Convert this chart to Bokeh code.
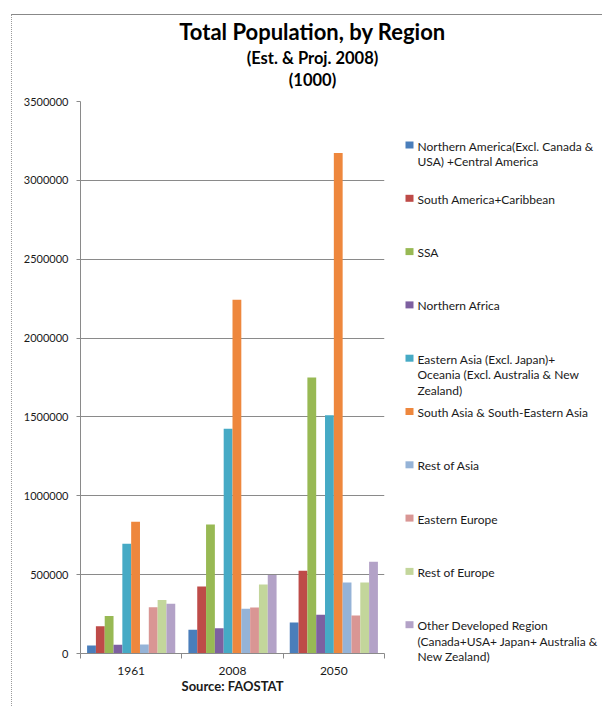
from bokeh.plotting import figure
from bokeh.core.properties import value
from bokeh.models import (ColumnDataSource, FixedTicker, NumeralTickFormatter,
                          Range1d, InlineStyleSheet)
from bokeh.embed import file_html
from bokeh.resources import INLINE

# ---------------- data ----------------
years = ["1961", "2008", "2050"]

region_labels = [
    "Northern America(Excl. Canada &\nUSA) +Central America",
    "South America+Caribbean",
    "SSA",
    "Northern Africa",
    "Eastern Asia (Excl. Japan)+\nOceania (Excl. Australia & New\nZealand)",
    "South Asia & South-Eastern Asia",
    "Rest of Asia",
    "Eastern Europe",
    "Rest of Europe",
    "Other Developed Region\n(Canada+USA+ Japan+ Australia &\nNew Zealand)",
]

northern_central_america = [50000, 150000, 197000]
south_america_caribbean = [173000, 425000, 524000]
ssa = [237000, 818000, 1750000]
northern_africa = [55000, 160000, 245000]
eastern_asia_oceania = [696000, 1425000, 1511000]
south_southeast_asia = [835000, 2243000, 3173000]
rest_of_asia = [57000, 283000, 450000]
eastern_europe = [294000, 292000, 241000]
rest_of_europe = [340000, 437000, 450000]
other_developed = [315000, 497000, 581000]

series = [northern_central_america, south_america_caribbean, ssa, northern_africa,
          eastern_asia_oceania, south_southeast_asia, rest_of_asia, eastern_europe,
          rest_of_europe, other_developed]

colors = ["#4A7EBB", "#BE4B48", "#98B954", "#7D60A0", "#46AAC5",
          "#EE873D", "#95B3D7", "#D99694", "#C3D69B", "#B3A2C7"]

y_ticks = [0, 500000, 1000000, 1500000, 2000000, 2500000, 3000000, 3500000]

title_lines = ["Total Population, by Region", "(Est. & Proj. 2008)", "(1000)"]

# ---------------- styling / layout ----------------
FONT = "Lato"
TXT = "#1a1a1a"
GRID = "#8a8a8a"
W, H = 602, 706
FRAME_LEFT, FRAME_RIGHT = 80, 384
FRAME_TOP, FRAME_BOTTOM = 101, 653

border_css = InlineStyleSheet(css="""
:host::before {
  content: "";
  position: absolute;
  left: 11px; top: 14px; right: 0px; bottom: 0px;
  border-left: 1px dotted #9a9a9a;
  border-top: 1px solid #888888;
  pointer-events: none;
  z-index: 10;
}
""")

# ---------------- chart ----------------
p = figure(width=W, height=H, output_backend="svg", toolbar_location=None,
           x_range=Range1d(0, len(years)), y_range=Range1d(0, y_ticks[-1]),
           min_border_left=FRAME_LEFT, min_border_right=W - FRAME_RIGHT,
           min_border_top=FRAME_TOP, min_border_bottom=H - FRAME_BOTTOM,
           stylesheets=[border_css])
p.outline_line_color = None
# page-pixel ranges for heading and legend (no axes attached)
p.extra_x_ranges = {"page": Range1d(FRAME_LEFT, FRAME_RIGHT)}
p.extra_y_ranges = {"page": Range1d(FRAME_BOTTOM, FRAME_TOP)}

n = len(series)
bw = 0.087
for j, vals in enumerate(series):
    xs = [i + 0.5 + (j - (n - 1) / 2) * bw for i in range(len(years))]
    src = ColumnDataSource(dict(x=xs, top=vals))
    p.vbar(x="x", top="top", width=bw, bottom=0, source=src,
           fill_color=colors[j], line_color=None)

# x axis: category labels centred, tick marks between categories
p.xaxis.ticker = FixedTicker(ticks=[i + 0.5 for i in range(len(years))],
                             minor_ticks=list(range(len(years) + 1)))
p.xaxis.major_label_overrides = {i + 0.5: y for i, y in enumerate(years)}
p.xaxis.major_tick_line_color = None
p.xaxis.major_tick_out = 0
p.xaxis.major_tick_in = 0
p.xaxis.minor_tick_line_color = GRID
p.xaxis.minor_tick_out = 5
p.xaxis.minor_tick_in = 0
p.xaxis.axis_line_color = GRID
p.xaxis.major_label_standoff = 8
p.xaxis.major_label_text_font = FONT
p.xaxis.major_label_text_font_size = "12px"
p.xaxis.major_label_text_color = TXT
p.xaxis.axis_label = "Source: FAOSTAT"
p.xaxis.axis_label_text_font = FONT
p.xaxis.axis_label_text_font_size = "13px"
p.xaxis.axis_label_text_font_style = "bold"
p.xaxis.axis_label_text_color = TXT
p.xaxis.axis_label_standoff = 0
p.xgrid.visible = False

# y axis
p.yaxis.ticker = FixedTicker(ticks=y_ticks)
p.yaxis.formatter = NumeralTickFormatter(format="0")
p.yaxis.major_tick_out = 4
p.yaxis.major_tick_in = 0
p.yaxis.major_tick_line_color = GRID
p.yaxis.minor_tick_line_color = None
p.yaxis.axis_line_color = GRID
p.yaxis.major_label_standoff = 8
p.yaxis.major_label_text_font = FONT
p.yaxis.major_label_text_font_size = "11px"
p.yaxis.major_label_text_color = TXT
p.ygrid.ticker = FixedTicker(ticks=y_ticks)
p.ygrid.grid_line_color = GRID
p.ygrid.grid_line_width = 1

# heading block (overlay level so it is drawn outside the plot frame)
title_src = ColumnDataSource(dict(x=[312] * 3, y=[31, 57, 79], text=title_lines,
                                  size=["22px", "16.5px", "16.5px"]))
p.text(x="x", y="y", text="text", source=title_src, x_range_name="page",
       y_range_name="page", text_align="center", text_baseline="alphabetic",
       text_font=value(FONT), text_font_size="size", text_font_style="bold",
       text_color="#000000", level="overlay")

# legend: evenly spaced slots to the right of the plot
slot_y = [144.5 + 53.3 * k for k in range(len(region_labels))]
leg_src = ColumnDataSource(dict(x=[409] * len(region_labels), y=slot_y,
                                tx=[417] * len(region_labels),
                                ty=[yy - 6.5 for yy in slot_y],
                                label=region_labels, color=colors))
p.rect(x="x", y="y", width=8, height=7, fill_color="color", line_color=None,
       source=leg_src, x_range_name="page", y_range_name="page", level="overlay")
p.text(x="tx", y="ty", text="label", source=leg_src, x_range_name="page",
       y_range_name="page", text_align="left", text_baseline="top",
       text_font=value(FONT), text_font_size="12px", text_color=TXT,
       text_line_height=1.04, level="overlay")

open("out.html", "w").write(file_html(p, INLINE))
